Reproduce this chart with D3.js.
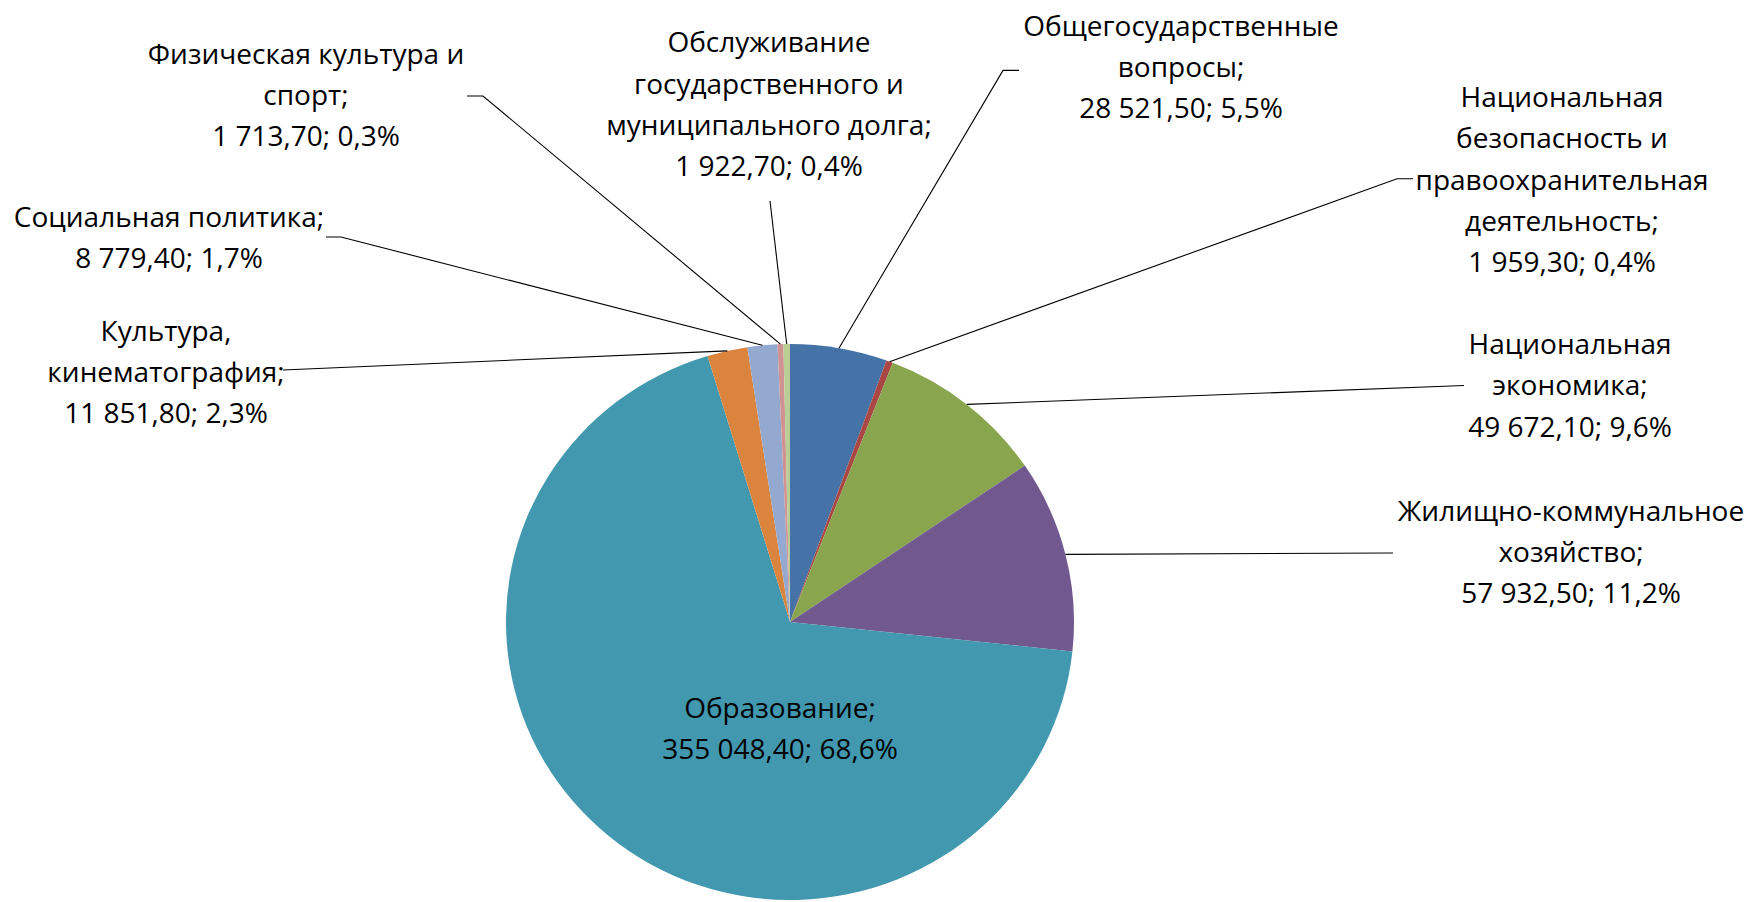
<!DOCTYPE html>
<html>
<head>
<meta charset="utf-8">
<script src="https://cdn.jsdelivr.net/npm/d3@7/dist/d3.min.js"></script>
<style>
  html, body { margin: 0; padding: 0; background: #fff; }
  svg text { font-family: "Open Sans", "Noto Sans", sans-serif; fill: #000; }
</style>
</head>
<body>
<svg id="chart" width="1752" height="902"></svg>
<script>
// ---- data ----
const categories = [
  "Общегосударственные вопросы",
  "Национальная безопасность и правоохранительная деятельность",
  "Национальная экономика",
  "Жилищно-коммунальное хозяйство",
  "Образование",
  "Культура, кинематография",
  "Социальная политика",
  "Физическая культура и спорт",
  "Обслуживание государственного и муниципального долга"
];
const values = [28521.5, 1959.3, 49672.1, 57932.5, 355048.4, 11851.8, 8779.4, 1713.7, 1922.7];
const percentLabels = ["5,5%", "0,4%", "9,6%", "11,2%", "68,6%", "2,3%", "1,7%", "0,3%", "0,4%"];
const labelLines = [
  ["Общегосударственные", "вопросы;"],
  ["Национальная", "безопасность и", "правоохранительная", "деятельность;"],
  ["Национальная", "экономика;"],
  ["Жилищно-коммунальное", "хозяйство;"],
  ["Образование;"],
  ["Культура,", "кинематография;"],
  ["Социальная политика;"],
  ["Физическая культура и", "спорт;"],
  ["Обслуживание", "государственного и", "муниципального долга;"]
];
const colors = ["#4673A7", "#AA4643", "#89A54E", "#71588F", "#4298AF", "#DB843D", "#93A9CF", "#D09392", "#B9CD96"];

// ---- layout ----
const cx = 790, cy = 622, R = 284, ry = 278;
const lineH = 41.3;
const fontSize = 28;
// label anchor: centre x and centre y of first line
const labelPos = [
  [1181, 24.6], [1562, 96], [1570, 343], [1571, 509.5], [780, 707],
  [166, 329.6], [169, 215.6], [306, 52.5], [769, 41.3]
];
// leader line points from label side (start, optional elbow) -> slice edge
const leaderPts = [
  [[1019, 70.4], [1003, 70.4]],
  [[1413, 178.8], [1397, 178.8]],
  [[1464, 385.5]],
  [[1393, 553]],
  null,
  [[283, 370]],
  [[326, 237], [341, 237]],
  [[467, 96], [483, 96]],
  [[770, 201]]
];

const fmt = v => {
  const s = d3.format(",.2f")(v);
  return s.replace(/,/g, " ").replace(".", ",");
};

const svg = d3.select("#chart");
const pie = d3.pie().sort(null).value(d => d)(values);
const arc = d3.arc().innerRadius(0).outerRadius(R);

const g = svg.append("g").attr("transform", `translate(${cx},${cy}) scale(1,${ry / R})`);
g.selectAll("path").data(pie).join("path")
  .attr("d", arc)
  .attr("fill", (d, i) => colors[i]);

// leader lines
pie.forEach((d, i) => {
  if (!leaderPts[i]) return;
  const a = (d.startAngle + d.endAngle) / 2;
  const ex = cx + R * Math.sin(a);
  const ey = cy - ry * Math.cos(a);
  const pts = leaderPts[i].concat([[ex, ey]]);
  svg.append("path")
    .attr("d", d3.line()(pts))
    .attr("fill", "none")
    .attr("stroke", "#000")
    .attr("stroke-width", 1.1);
});

// labels
pie.forEach((d, i) => {
  const lines = labelLines[i].concat([fmt(values[i]) + "; " + percentLabels[i]]);
  const [lx, ly] = labelPos[i];
  const t = svg.append("text")
    .attr("text-anchor", "middle")
    .attr("font-size", fontSize);
  lines.forEach((ln, k) => {
    t.append("tspan")
      .attr("x", lx)
      .attr("y", ly + k * lineH)
      .attr("dominant-baseline", "central")
      .text(ln);
  });
});
</script>
</body>
</html>
